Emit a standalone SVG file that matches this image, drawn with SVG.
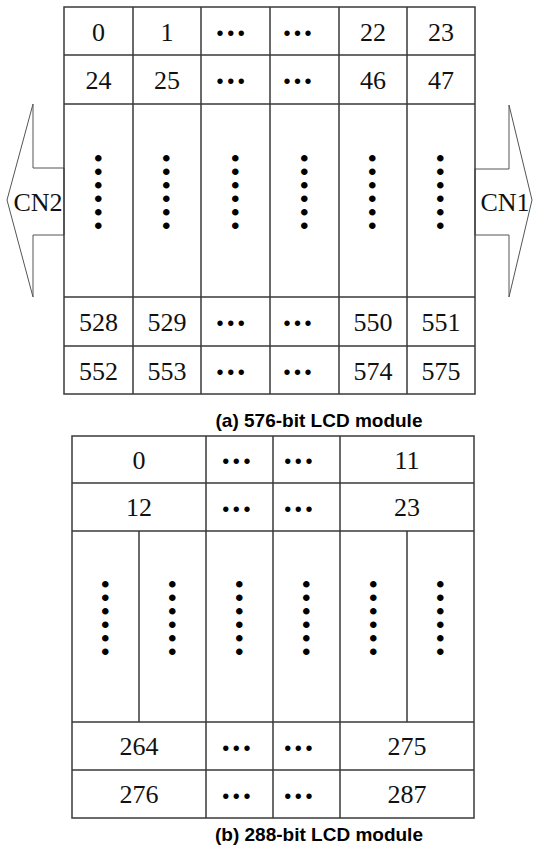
<svg xmlns="http://www.w3.org/2000/svg" width="533" height="850" viewBox="0 0 533 850">
  <style>
    .grid { fill: none; stroke: #3a3a3a; stroke-width: 1.5; }
    .arrow { fill: #ffffff; stroke: #555555; stroke-width: 1; }
    .num { font-family: "Liberation Serif", "Times New Roman", serif; font-size: 26px; fill: #111; text-anchor: middle; }
    .cn { font-family: "Liberation Serif", "Times New Roman", serif; font-size: 26px; fill: #111; text-anchor: middle; }
    .ell { font-family: "Liberation Sans", Arial, sans-serif; font-size: 20px; letter-spacing: 3.6px; fill: #000; text-anchor: middle; }
    .vell { font-family: "Liberation Sans", Arial, sans-serif; font-size: 24px; letter-spacing: 5.1px; fill: #000; text-anchor: middle; }
    .cap { font-family: "Liberation Sans", Arial, sans-serif; font-size: 19px; font-weight: bold; fill: #000; text-anchor: middle; }
  </style>
  <rect width="533" height="850" fill="#ffffff"/>

  <!-- connector arrows on both sides of the 576-bit module -->
  <g id="connectors">
    <polygon class="arrow" points="64,168 33,168 33,104 7,200 33,297 33,235 64,235"/>
    <polygon class="arrow" points="475,169 509,169 509,105 532,200 509,297 509,235 475,235"/>
    <text class="cn" x="38" y="211">CN2</text>
    <text class="cn" x="505" y="211">CN1</text>
  </g>

  <!-- (a) 576-bit module: 6 columns x 24 rows -->
  <g id="module-576">
    <rect class="grid" x="64" y="7" width="411" height="387"/>
    <path class="grid" d="M133,7V394 M201,7V394 M270,7V394 M339,7V394 M407,7V394 M64,55H475 M64,104H475 M64,297H475 M64,346H475"/>
    <text class="num" x="98.5" y="40.5">0</text>
    <text class="num" x="167" y="40.5">1</text>
    <text class="ell" x="232.5" y="39.5">•••</text>
    <text class="ell" x="299.3" y="39.5">•••</text>
    <text class="num" x="373" y="40.5">22</text>
    <text class="num" x="441" y="40.5">23</text>

    <text class="num" x="98.5" y="89">24</text>
    <text class="num" x="167" y="89">25</text>
    <text class="ell" x="232.5" y="88">•••</text>
    <text class="ell" x="299.3" y="88">•••</text>
    <text class="num" x="373" y="89">46</text>
    <text class="num" x="441" y="89">47</text>

    <g transform="translate(98.5,192) rotate(90)"><text class="vell" x="2.5" y="8.6">••••••</text></g>
    <g transform="translate(167,192) rotate(90)"><text class="vell" x="2.5" y="8.6">••••••</text></g>
    <g transform="translate(235.5,192) rotate(90)"><text class="vell" x="2.5" y="8.6">••••••</text></g>
    <g transform="translate(304.5,192) rotate(90)"><text class="vell" x="2.5" y="8.6">••••••</text></g>
    <g transform="translate(373,192) rotate(90)"><text class="vell" x="2.5" y="8.6">••••••</text></g>
    <g transform="translate(441,192) rotate(90)"><text class="vell" x="2.5" y="8.6">••••••</text></g>

    <text class="num" x="98.5" y="331">528</text>
    <text class="num" x="167" y="331">529</text>
    <text class="ell" x="232.5" y="330">•••</text>
    <text class="ell" x="299.3" y="330">•••</text>
    <text class="num" x="373" y="331">550</text>
    <text class="num" x="441" y="331">551</text>

    <text class="num" x="98.5" y="379.5">552</text>
    <text class="num" x="167" y="379.5">553</text>
    <text class="ell" x="232.5" y="378.5">•••</text>
    <text class="ell" x="299.3" y="378.5">•••</text>
    <text class="num" x="373" y="379.5">574</text>
    <text class="num" x="441" y="379.5">575</text>
  </g>
  <text id="caption-a" class="cap" x="319" y="426.5">(a) 576-bit LCD module</text>

  <!-- (b) 288-bit module: merged cells in the numbered rows -->
  <g id="module-288">
    <rect class="grid" x="72" y="436" width="402" height="382"/>
    <path class="grid" d="M206,436V818 M273,436V818 M340,436V818 M139,531V722 M407,531V722 M72,483H474 M72,531H474 M72,722H474 M72,770H474"/>
    <text class="num" x="139" y="468.5">0</text>
    <text class="ell" x="238.1" y="468">•••</text>
    <text class="ell" x="300.1" y="468">•••</text>
    <text class="num" x="407" y="468.5">11</text>

    <text class="num" x="139" y="516">12</text>
    <text class="ell" x="238.1" y="515.5">•••</text>
    <text class="ell" x="300.1" y="515.5">•••</text>
    <text class="num" x="407" y="516">23</text>

    <g transform="translate(105.5,618) rotate(90)"><text class="vell" x="2.5" y="8.6">••••••</text></g>
    <g transform="translate(172.5,618) rotate(90)"><text class="vell" x="2.5" y="8.6">••••••</text></g>
    <g transform="translate(239.5,618) rotate(90)"><text class="vell" x="2.5" y="8.6">••••••</text></g>
    <g transform="translate(306.5,618) rotate(90)"><text class="vell" x="2.5" y="8.6">••••••</text></g>
    <g transform="translate(373.5,618) rotate(90)"><text class="vell" x="2.5" y="8.6">••••••</text></g>
    <g transform="translate(440.5,618) rotate(90)"><text class="vell" x="2.5" y="8.6">••••••</text></g>

    <text class="num" x="139" y="755">264</text>
    <text class="ell" x="238.1" y="754.5">•••</text>
    <text class="ell" x="300.1" y="754.5">•••</text>
    <text class="num" x="407" y="755">275</text>

    <text class="num" x="139" y="803">276</text>
    <text class="ell" x="238.1" y="802.5">•••</text>
    <text class="ell" x="300.1" y="802.5">•••</text>
    <text class="num" x="407" y="803">287</text>
  </g>
  <text id="caption-b" class="cap" x="319" y="841">(b) 288-bit LCD module</text>
</svg>
